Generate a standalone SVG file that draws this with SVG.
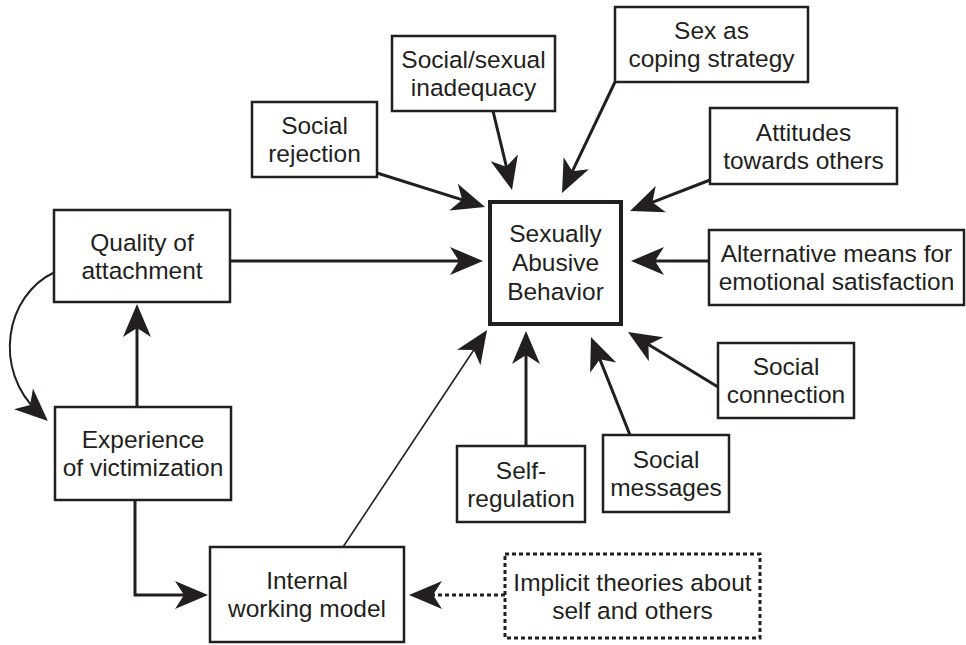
<svg xmlns="http://www.w3.org/2000/svg" width="966" height="645" viewBox="0 0 966 645">
  <style>
    .box { fill: #fff; stroke: #231f20; stroke-width: 2.5; }
    .core { fill: #fff; stroke: #231f20; stroke-width: 4; }
    .dotted { fill: #fff; stroke: #231f20; stroke-width: 3; stroke-dasharray: 4 3; }
    text { font-family: "Liberation Sans", Arial, Helvetica, sans-serif; font-size: 24.5px; fill: #231f20; text-anchor: middle; }
    .link { fill: none; stroke: #231f20; stroke-width: 3; marker-end: url(#head); }
    .thin { stroke-width: 1.6; }
    .curve { stroke-width: 2; }
    .dots { stroke-dasharray: 4 3; }
  </style>
  <defs>
    <marker id="head" viewBox="-22 -15 35 30" markerWidth="35" markerHeight="30" refX="0" refY="0" orient="auto" markerUnits="userSpaceOnUse">
      <path d="M12,0 L-21,-14 L-12,0 L-21,14 Z" fill="#231f20"/>
    </marker>
  </defs>

  <rect width="966" height="645" fill="#fff"/>

  <!-- connectors -->
  <g id="connectors">
    <path class="link" d="M377,173 L473.6,203.4"/>
    <path class="link" d="M493,111 L509.2,178.3"/>
    <path class="link" d="M615,82 L567.2,182.2"/>
    <path class="link" d="M710,180 L641.2,206.7"/>
    <path class="link" d="M709,261 L643,261"/>
    <path class="link" d="M230,261 L471,261"/>
    <path class="link" d="M718,387 L638.2,338.3"/>
    <path class="link" d="M630,435 L595.4,348.1"/>
    <path class="link" d="M526,446 L526,343"/>
    <path class="link thin" d="M343,547 L480.4,340"/>
    <path class="link" d="M137,407 L137,316"/>
    <path class="link" d="M135,500 V595 H196"/>
    <path class="link dots" d="M505,595 L421,595"/>
    <path class="link curve" d="M55,272 C5,295 -8,370 39,413"/>
  </g>

  <!-- nodes -->
  <g id="sexually-abusive-behavior">
    <rect class="core" x="490" y="202" width="131" height="122"/>
    <text x="555.5" y="242">Sexually</text>
    <text x="555.5" y="271">Abusive</text>
    <text x="555.5" y="300">Behavior</text>
  </g>
  <g id="quality-of-attachment">
    <rect class="box" x="54" y="210" width="176" height="92"/>
    <text x="142" y="250.5">Quality of</text>
    <text x="142" y="278.5">attachment</text>
  </g>
  <g id="experience-of-victimization">
    <rect class="box" x="55" y="407" width="176" height="93"/>
    <text x="143" y="448">Experience</text>
    <text x="143" y="476">of victimization</text>
  </g>
  <g id="internal-working-model">
    <rect class="box" x="210" y="547" width="194" height="95"/>
    <text x="307" y="589">Internal</text>
    <text x="307" y="617">working model</text>
  </g>
  <g id="implicit-theories">
    <rect class="dotted" x="505" y="554" width="255" height="84"/>
    <text x="632.5" y="590.5">Implicit theories about</text>
    <text x="632.5" y="618.5">self and others</text>
  </g>
  <g id="self-regulation">
    <rect class="box" x="457" y="446" width="128" height="76"/>
    <text x="521" y="478.5">Self-</text>
    <text x="521" y="506.5">regulation</text>
  </g>
  <g id="social-messages">
    <rect class="box" x="603" y="435" width="126" height="77"/>
    <text x="666" y="468">Social</text>
    <text x="666" y="496">messages</text>
  </g>
  <g id="social-connection">
    <rect class="box" x="718" y="343" width="136" height="75"/>
    <text x="786" y="375">Social</text>
    <text x="786" y="403">connection</text>
  </g>
  <g id="alternative-means">
    <rect class="box" x="709" y="230" width="255" height="75"/>
    <text x="836.5" y="262">Alternative means for</text>
    <text x="836.5" y="290">emotional satisfaction</text>
  </g>
  <g id="attitudes-towards-others">
    <rect class="box" x="710" y="108" width="187" height="76"/>
    <text x="803.5" y="140.5">Attitudes</text>
    <text x="803.5" y="168.5">towards others</text>
  </g>
  <g id="sex-as-coping">
    <rect class="box" x="615" y="7" width="193" height="75"/>
    <text x="711.5" y="39">Sex as</text>
    <text x="711.5" y="67">coping strategy</text>
  </g>
  <g id="social-sexual-inadequacy">
    <rect class="box" x="392" y="36" width="163" height="75"/>
    <text x="473.5" y="68">Social/sexual</text>
    <text x="473.5" y="96">inadequacy</text>
  </g>
  <g id="social-rejection">
    <rect class="box" x="252" y="102" width="125" height="75"/>
    <text x="314.5" y="134">Social</text>
    <text x="314.5" y="162">rejection</text>
  </g>
</svg>
